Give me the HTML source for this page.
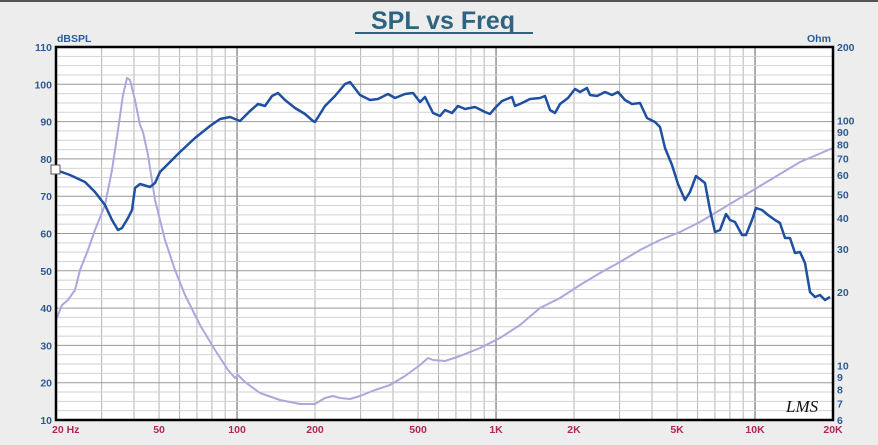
<!DOCTYPE html>
<html><head><meta charset="utf-8"><style>
html,body{margin:0;padding:0;background:#ededed;}
svg{display:block;font-family:"Liberation Sans",sans-serif;}
</style></head><body>
<svg id="s" width="878" height="445" viewBox="0 0 878 445" xmlns="http://www.w3.org/2000/svg">
<rect x="0" y="0" width="878" height="445" fill="#ededed"/>
<rect x="0" y="0" width="878" height="2" fill="#555"/>
<text x="443" y="29" text-anchor="middle" font-size="25" font-weight="bold" fill="#2f6480">SPL vs Freq</text>
<rect x="355" y="32" width="178" height="2" fill="#2f6480"/>
<rect x="56" y="47" width="777" height="373" fill="#ffffff"/>
<g id="grid"></g>
<g id="labels" font-size="10.5" font-weight="bold"></g>
<polyline fill="none" stroke="#aaa8dc" stroke-width="2" stroke-linejoin="round" points="56,320 62,305 68,300 75,290 80,270 88,250 95,230 105,205 112,170 118,130 123,95 127,78 130,80 135,100 140,125 143,132 148,155 155,200 165,240 175,270 185,295 200,325 215,350 228,370 235,378 238,375 245,382 260,393 280,400 300,404 315,404 325,398 333,396 340,398 350,399 360,396 375,390 390,385 405,376 420,365 428,358 433,360 445,361 460,356 480,348 500,338 520,325 540,308 560,298 580,285 600,273 620,262 640,250 660,240 680,232 700,222 720,210 740,198 760,186 780,174 800,162 833,148"/>
<polyline fill="none" stroke="#1f4fa0" stroke-width="2.5" stroke-linejoin="round" points="56,170 70,175 85,182 95,192 105,205 112,220 118,230 122,228 128,218 132,210 135,188 140,184 150,187 155,183 160,172 170,162 180,152 195,138 210,126 220,119 230,117 240,121 250,111 258,104 265,106 272,96 278,93 285,100 295,108 305,114 313,121 315,122 325,106 335,96 345,84 350,82 360,95 370,100 378,99 388,94 395,98 405,94 413,93 420,102 425,97 433,113 440,116 445,110 452,113 458,106 465,109 475,107 485,112 490,114 495,108 502,101 512,97 515,106 522,103 530,99 540,98 545,96 550,110 555,113 560,104 568,98 575,89 580,92 587,88 590,95 597,96 605,92 612,95 618,92 625,100 632,104 640,103 647,118 655,122 660,127 665,148 672,165 678,184 685,200 690,192 696,176 705,183 710,210 715,232 720,230 726,214 730,220 735,222 742,235 746,235 752,220 756,208 762,210 768,215 775,220 780,223 785,238 790,238 795,253 800,252 805,263 810,292 815,297 820,295 825,300 830,297"/>
<rect x="56" y="47" width="777" height="373" fill="none" stroke="#000" stroke-width="2.5"/>
<rect x="51" y="165" width="9" height="9" fill="#fff" stroke="#555" stroke-width="1"/>
<text x="786" y="412" font-size="17" font-style="italic" font-family="Liberation Serif,serif" fill="#111">LMS</text>
</svg>
<script>
var ns="http://www.w3.org/2000/svg",g=document.getElementById("grid"),L=document.getElementById("labels");
function ln(x1,y1,x2,y2,c,w){var e=document.createElementNS(ns,"line");e.setAttribute("x1",x1);e.setAttribute("y1",y1);e.setAttribute("x2",x2);e.setAttribute("y2",y2);e.setAttribute("stroke",c);e.setAttribute("stroke-width",w);g.appendChild(e);}
function tx(x,y,t,c,a){var e=document.createElementNS(ns,"text");e.setAttribute("x",x);e.setAttribute("y",y);e.setAttribute("fill",c);e.setAttribute("text-anchor",a||"start");e.textContent=t;L.appendChild(e);}
var X0=56,X1=833,Y0=47,Y1=420,dec=(X1-X0)/3;
function fx(f){return X0+dec*Math.log10(f/20);}
for(var d=10;d<=10000;d*=10){for(var m=1;m<10;m++){var f=d*m;if(f<20||f>20000)continue;var x=fx(f);var major=(m==1);ln(x,Y0,x,Y1,major?"#777":"#b5b5b5",major?1.2:1);}}
for(var db=10;db<=110;db+=2.5){var y=Y1-(db-10)*(Y1-Y0)/100;var maj=(db%10==0);ln(X0,y,X1,y,maj?"#999":"#d2d2d2",1);}
for(var db=10;db<=110;db+=10){var y=Y1-(db-10)*(Y1-Y0)/100;tx(52,y+4,""+db,"#2a5b95","end");}
tx(57,42,"dBSPL","#2a5b95");tx(807,42,"Ohm","#2a5b95");
var od=(Y1-Y0)/Math.log10(200/6);
[6,7,8,9,10,20,30,40,50,60,70,80,90,100,200].forEach(function(o){var y=Y0+od*Math.log10(200/o);tx(837,y+4,""+o,"#2a5b95");});
[["20  Hz",20],["50",50],["100",100],["200",200],["500",500],["1K",1000],["2K",2000],["5K",5000],["10K",10000],["20K",20000]].forEach(function(p){var x=fx(p[1]);if(p[1]==20)tx(52,433,"20  Hz","#b0265a");else tx(x,433,p[0],"#b0265a","middle");});
</script>
</body></html>
